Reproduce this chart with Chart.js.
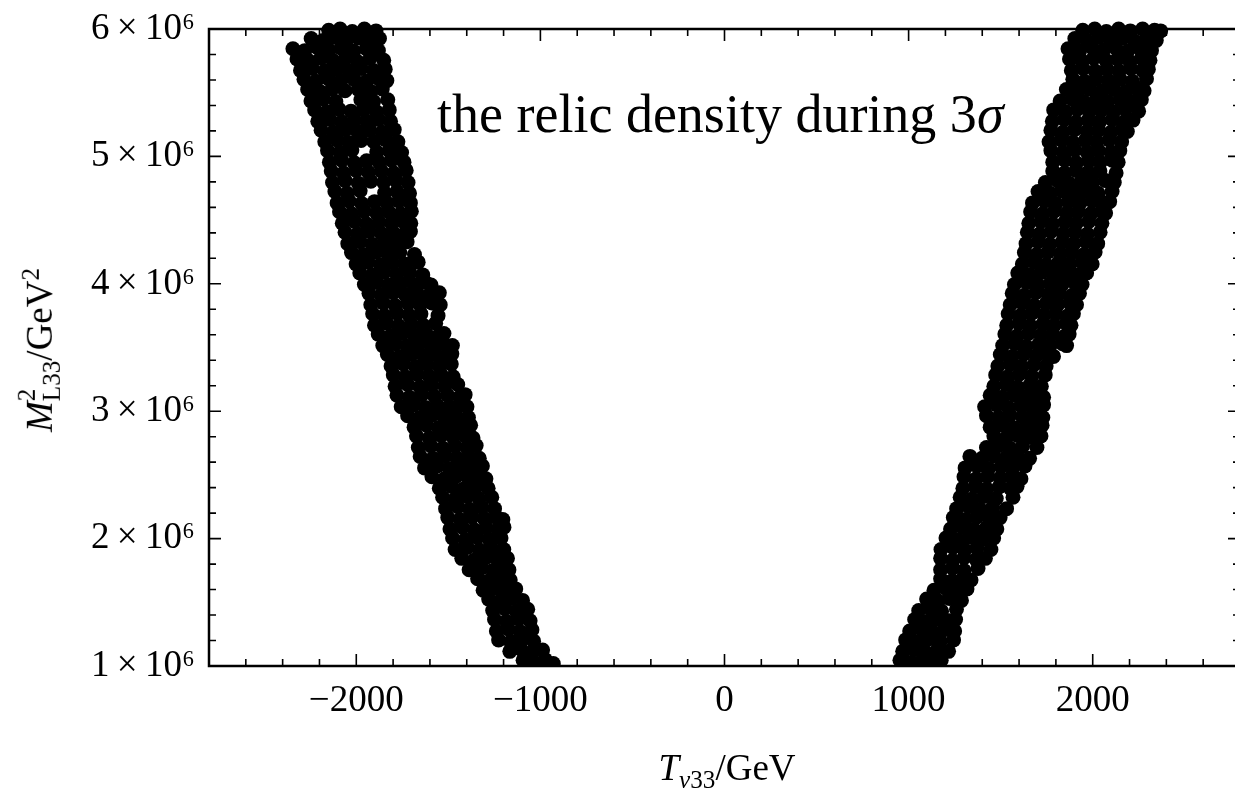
<!DOCTYPE html>
<html>
<head>
<meta charset="utf-8">
<script src="https://cdn.jsdelivr.net/npm/chart.js@4.4.0/dist/chart.umd.min.js"></script>
<style>
  html, body { margin: 0; padding: 0; background: #fff; overflow: hidden; }
  #wrap { position: relative; width: 1250px; height: 795px; }
  .lbl { position: absolute; font-family: "Liberation Serif", "Times New Roman", serif; color: #000; white-space: nowrap; line-height: 1; }
  .lbl sub, .lbl sup { font-size: 0.68em; line-height: 0; }
  .lbl sub { vertical-align: -0.32em; }
  .lbl sup { vertical-align: 0.5em; }
  #note { left: 437px; top: 87px; font-size: 54px; }
  #xtitle { left: 727px; top: 749px; font-size: 37px; transform: translateX(-50%); }
  #ytitle { left: 39px; top: 350px; font-size: 37px; transform: translate(-50%, -50%) rotate(-90deg); }
  .ss { display: inline-block; vertical-align: -0.34em; font-size: 0.68em; line-height: 1; }
  .ss span { display: block; }
</style>
</head>
<body>
<div id="wrap">
  <canvas id="chart" width="1250" height="795"></canvas>
  <div class="lbl" id="note">the relic density during 3<i>σ</i></div>
  <div class="lbl" id="xtitle"><i>T</i><sub><i>ν</i>33</sub>/GeV</div>
  <div class="lbl" id="ytitle"><i>M</i><span class="ss"><span>2</span><span>L33</span></span>/GeV<sup>2</sup></div>
</div>
<script>
// axis setup
const xMin = -2800, xMax = 2800, xMinorStep = 200;
const yMin = 1, yMax = 6, yMinorStep = 0.2;
const xTicks = [-2000, -1000, 0, 1000, 2000];
const yTicks = [1, 2, 3, 4, 5, 6]; // in units of 10^6 GeV^2

// scan points, x = T_v33 (GeV), y = M^2_L33 (10^6 GeV^2)
const leftBand = [
  [-2150,5.99],[-2088,6.0],[-2022,5.98],[-1956,6.0],[-1893,5.985],
  [-2245,5.925],[-2181,5.91],[-2116,5.935],[-2052,5.915],[-1988,5.93],[-1929,5.905],[-1874,5.925],
  [-2344,5.845],[-2280,5.83],[-2213,5.855],[-2148,5.835],[-2082,5.85],[-2014,5.825],[-1946,5.845],[-1880,5.83],
  [-2322,5.765],[-2258,5.75],[-2193,5.77],[-2128,5.755],[-2061,5.765],[-1994,5.745],[-1925,5.77],[-1851,5.755],
  [-2303,5.675],[-2239,5.69],[-2171,5.67],[-2104,5.685],[-2038,5.67],[-1973,5.69],[-1906,5.675],[-1843,5.685],
  [-2284,5.605],[-2219,5.59],[-2152,5.61],[-2083,5.595],[-2012,5.605],[-1944,5.59],[-1879,5.61],[-1834,5.595],
  [-2264,5.525],[-2198,5.51],[-2131,5.53],[-2061,5.515],[-1989,5.525],[-1921,5.51],[-1859,5.53],
  [-2246,5.435],[-2179,5.45],[-2111,5.43],[-1975,5.445],[-1906,5.43],[-1829,5.445],
  [-2226,5.365],[-2160,5.35],[-2094,5.37],[-2029,5.355],[-1961,5.365],[-1891,5.35],[-1821,5.365],
  [-2209,5.275],[-2144,5.29],[-2079,5.27],[-2011,5.285],[-1944,5.275],[-1879,5.29],[-1814,5.275],
  [-2191,5.205],[-2124,5.19],[-2059,5.21],[-1994,5.195],[-1926,5.205],[-1859,5.19],[-1794,5.21],
  [-2171,5.115],[-2104,5.13],[-2041,5.11],[-1974,5.125],[-1904,5.115],[-1839,5.13],[-1774,5.115],
  [-2156,5.045],[-2089,5.03],[-2024,5.05],[-1889,5.035],[-1821,5.045],[-1754,5.03],
  [-2146,4.955],[-2079,4.97],[-2011,4.95],[-1944,4.965],[-1876,4.955],[-1809,4.97],[-1741,4.955],
  [-2136,4.885],[-2069,4.87],[-2001,4.89],[-1934,4.875],[-1864,4.885],[-1796,4.87],[-1729,4.89],
  [-2129,4.795],[-2061,4.81],[-1989,4.79],[-1921,4.805],[-1851,4.795],[-1784,4.81],[-1719,4.795],
  [-2116,4.725],[-2049,4.71],[-1979,4.73],[-1846,4.715],[-1779,4.725],[-1711,4.71],
  [-2104,4.635],[-2039,4.65],[-1971,4.63],[-1901,4.645],[-1834,4.635],[-1769,4.65],[-1706,4.635],
  [-2091,4.565],[-2026,4.55],[-1957,4.57],[-1889,4.555],[-1824,4.565],[-1759,4.55],[-1701,4.57],
  [-2076,4.475],[-2009,4.49],[-1944,4.47],[-1876,4.485],[-1809,4.475],[-1746,4.49],[-1704,4.475],
  [-2061,4.405],[-1994,4.39],[-1929,4.41],[-1864,4.395],[-1801,4.405],[-1739,4.39],[-1706,4.41],
  [-2046,4.315],[-1979,4.33],[-1914,4.31],[-1849,4.325],[-1786,4.315],[-1724,4.33],
  [-2026,4.245],[-1961,4.23],[-1894,4.25],[-1829,4.235],[-1764,4.245],[-1684,4.23],
  [-2001,4.155],[-1936,4.17],[-1869,4.15],[-1804,4.165],[-1736,4.155],[-1664,4.17],
  [-1981,4.085],[-1914,4.07],[-1849,4.09],[-1781,4.075],[-1709,4.085],[-1639,4.07],
  [-1956,3.995],[-1889,4.01],[-1824,3.99],[-1756,4.005],[-1689,3.995],[-1624,4.01],[-1594,3.99],
  [-1931,3.925],[-1864,3.91],[-1799,3.93],[-1734,3.915],[-1669,3.925],[-1604,3.91],[-1549,3.93],
  [-1921,3.835],[-1854,3.85],[-1789,3.83],[-1719,3.845],[-1654,3.835],[-1589,3.85],[-1544,3.835],
  [-1911,3.765],[-1846,3.75],[-1779,3.77],[-1714,3.755],[-1649,3.765],[-1556,3.75],
  [-1901,3.675],[-1834,3.69],[-1769,3.67],[-1701,3.685],[-1636,3.675],[-1569,3.69],
  [-1881,3.605],[-1814,3.59],[-1749,3.61],[-1684,3.595],[-1619,3.605],[-1554,3.59],[-1524,3.61],
  [-1856,3.515],[-1789,3.53],[-1724,3.51],[-1659,3.525],[-1594,3.515],[-1529,3.53],[-1478,3.515],
  [-1831,3.445],[-1764,3.43],[-1699,3.45],[-1634,3.435],[-1569,3.445],[-1506,3.43],[-1481,3.45],
  [-1811,3.355],[-1744,3.37],[-1679,3.35],[-1614,3.365],[-1549,3.355],[-1484,3.37],
  [-1799,3.285],[-1734,3.27],[-1669,3.29],[-1604,3.275],[-1539,3.285],[-1474,3.27],
  [-1789,3.195],[-1721,3.21],[-1654,3.19],[-1589,3.205],[-1519,3.195],[-1449,3.21],
  [-1779,3.125],[-1711,3.11],[-1644,3.13],[-1574,3.115],[-1504,3.125],[-1439,3.11],[-1409,3.13],
  [-1756,3.035],[-1689,3.05],[-1624,3.03],[-1559,3.045],[-1494,3.035],[-1429,3.05],[-1399,3.035],
  [-1721,2.965],[-1654,2.95],[-1589,2.97],[-1524,2.955],[-1459,2.965],[-1391,2.95],
  [-1686,2.875],[-1619,2.89],[-1554,2.87],[-1489,2.885],[-1424,2.875],[-1379,2.89],
  [-1673,2.805],[-1604,2.79],[-1539,2.81],[-1474,2.795],[-1409,2.805],[-1366,2.79],
  [-1663,2.715],[-1596,2.73],[-1529,2.71],[-1464,2.725],[-1399,2.715],[-1349,2.73],
  [-1653,2.645],[-1584,2.63],[-1519,2.65],[-1454,2.635],[-1389,2.645],[-1332,2.63],
  [-1629,2.555],[-1561,2.57],[-1496,2.55],[-1429,2.565],[-1364,2.555],[-1315,2.57],
  [-1589,2.485],[-1521,2.47],[-1457,2.49],[-1391,2.475],[-1329,2.485],[-1296,2.47],
  [-1549,2.395],[-1481,2.41],[-1417,2.39],[-1351,2.405],[-1284,2.395],
  [-1531,2.325],[-1464,2.31],[-1399,2.33],[-1334,2.315],[-1264,2.325],
  [-1515,2.235],[-1449,2.25],[-1384,2.23],[-1317,2.245],[-1249,2.235],
  [-1503,2.165],[-1436,2.15],[-1371,2.17],[-1304,2.155],[-1239,2.165],[-1204,2.15],
  [-1491,2.075],[-1424,2.09],[-1359,2.07],[-1294,2.085],[-1229,2.075],[-1198,2.09],
  [-1477,2.005],[-1409,1.99],[-1344,2.01],[-1279,1.995],[-1214,2.005],
  [-1463,1.915],[-1397,1.93],[-1331,1.91],[-1265,1.925],[-1199,1.915],
  [-1427,1.845],[-1361,1.83],[-1297,1.85],[-1234,1.835],[-1179,1.845],
  [-1387,1.755],[-1321,1.77],[-1259,1.75],[-1199,1.765],[-1171,1.755],
  [-1341,1.685],[-1279,1.67],[-1219,1.69],[-1164,1.675],
  [-1311,1.595],[-1249,1.61],[-1189,1.59],[-1134,1.605],
  [-1281,1.525],[-1219,1.51],[-1159,1.53],[-1097,1.515],
  [-1259,1.435],[-1194,1.45],[-1131,1.43],[-1069,1.445],
  [-1249,1.365],[-1184,1.35],[-1119,1.37],[-1056,1.355],
  [-1239,1.275],[-1174,1.29],[-1111,1.27],[-1046,1.285],
  [-1227,1.205],[-1161,1.19],[-1099,1.21],[-1037,1.195],
  [-1166,1.115],[-1104,1.13],[-1044,1.11],[-988,1.125],
  [-1094,1.045],[-1034,1.03],[-974,1.05],[-930,1.02]
];

const rightBand = [
  [1946,5.99],[2011,6.0],[2074,5.98],[2141,6.0],[2204,5.985],[2271,6.0],[2336,5.99],[2369,5.985],
  [1903,5.925],[1967,5.91],[2033,5.935],[2097,5.915],[2163,5.93],[2227,5.905],[2293,5.925],[2345,5.91],
  [1866,5.845],[1929,5.83],[1996,5.855],[2059,5.835],[2126,5.85],[2189,5.825],[2256,5.845],[2319,5.83],
  [1874,5.765],[1941,5.75],[2004,5.77],[2071,5.755],[2134,5.765],[2201,5.745],[2264,5.77],[2311,5.755],
  [1884,5.675],[1947,5.69],[2013,5.67],[2077,5.685],[2143,5.67],[2207,5.69],[2271,5.675],[2302,5.685],
  [1892,5.605],[1956,5.59],[2019,5.61],[2086,5.595],[2149,5.605],[2216,5.59],[2292,5.61],
  [1857,5.525],[1921,5.51],[1984,5.53],[2051,5.515],[2114,5.525],[2181,5.51],[2244,5.53],[2279,5.515],
  [1823,5.435],[1889,5.45],[1951,5.43],[2019,5.445],[2081,5.43],[2149,5.445],[2211,5.43],[2264,5.445],
  [1788,5.365],[1853,5.35],[1917,5.37],[1983,5.355],[2047,5.365],[2113,5.35],[2177,5.37],[2249,5.355],
  [1781,5.275],[1846,5.29],[1909,5.27],[1976,5.285],[2039,5.275],[2106,5.29],[2169,5.27],[2219,5.285],
  [1773,5.205],[1839,5.19],[1901,5.21],[1969,5.195],[2031,5.205],[2099,5.19],[2159,5.21],[2188,5.195],
  [1763,5.115],[1829,5.13],[1891,5.11],[1959,5.125],[2021,5.115],[2089,5.13],[2157,5.115],
  [1773,5.045],[1839,5.03],[1902,5.05],[1969,5.035],[2031,5.045],[2099,5.03],[2147,5.045],
  [1783,4.955],[1849,4.97],[1911,4.95],[1979,4.965],[2041,4.955],[2106,4.97],[2138,4.955],
  [1783,4.885],[1847,4.87],[1909,4.89],[1976,4.875],[2039,4.885],[2127,4.87],
  [1743,4.795],[1809,4.81],[1871,4.79],[1939,4.805],[2001,4.795],[2069,4.81],[2117,4.795],
  [1703,4.725],[1769,4.71],[1831,4.73],[1899,4.715],[1961,4.725],[2029,4.71],[2105,4.725],
  [1673,4.635],[1739,4.65],[1801,4.63],[1869,4.645],[1931,4.635],[1999,4.65],[2061,4.635],[2092,4.645],
  [1663,4.565],[1729,4.55],[1791,4.57],[1859,4.555],[1921,4.565],[1989,4.55],[2049,4.57],[2070,4.555],
  [1653,4.475],[1719,4.49],[1781,4.47],[1849,4.485],[1911,4.475],[1979,4.49],[2050,4.475],
  [1645,4.405],[1711,4.39],[1774,4.41],[1841,4.395],[1904,4.405],[1971,4.39],[2040,4.405],
  [1638,4.315],[1703,4.33],[1767,4.31],[1833,4.325],[1897,4.315],[1963,4.33],[2027,4.315],
  [1629,4.245],[1695,4.23],[1757,4.25],[1825,4.235],[1887,4.245],[1953,4.23],[2013,4.25],
  [1618,4.155],[1683,4.17],[1747,4.15],[1813,4.165],[1877,4.155],[1943,4.17],[1997,4.155],
  [1593,4.085],[1659,4.07],[1721,4.09],[1789,4.075],[1851,4.085],[1919,4.07],[1967,4.085],
  [1575,3.995],[1641,4.01],[1704,3.99],[1771,4.005],[1834,3.995],[1901,4.01],[1942,3.995],
  [1563,3.925],[1629,3.91],[1691,3.93],[1759,3.915],[1821,3.925],[1889,3.91],[1928,3.925],
  [1552,3.835],[1618,3.85],[1681,3.83],[1747,3.845],[1809,3.835],[1876,3.85],[1912,3.835],
  [1541,3.765],[1607,3.75],[1669,3.77],[1736,3.755],[1799,3.765],[1866,3.75],[1895,3.765],
  [1533,3.675],[1599,3.69],[1661,3.67],[1729,3.685],[1791,3.675],[1856,3.69],[1882,3.675],
  [1523,3.605],[1589,3.59],[1651,3.61],[1719,3.595],[1781,3.605],[1849,3.59],[1872,3.605],
  [1511,3.515],[1577,3.53],[1639,3.51],[1707,3.525],[1769,3.515],[1836,3.53],[1858,3.515],
  [1498,3.445],[1563,3.43],[1627,3.45],[1693,3.435],[1754,3.445],[1787,3.43],
  [1485,3.355],[1551,3.37],[1614,3.35],[1681,3.365],[1747,3.355],
  [1473,3.285],[1539,3.27],[1601,3.29],[1669,3.275],[1742,3.285],
  [1463,3.195],[1529,3.21],[1591,3.19],[1659,3.205],[1721,3.195],
  [1443,3.125],[1509,3.11],[1571,3.13],[1639,3.115],[1701,3.125],[1733,3.11],
  [1413,3.035],[1479,3.05],[1541,3.03],[1609,3.045],[1671,3.035],[1733,3.05],
  [1423,2.965],[1489,2.95],[1551,2.97],[1619,2.955],[1681,2.965],[1729,2.95],
  [1443,2.875],[1509,2.89],[1571,2.87],[1639,2.885],[1701,2.875],[1725,2.89],
  [1463,2.805],[1529,2.79],[1591,2.81],[1659,2.795],[1719,2.805],
  [1423,2.715],[1489,2.73],[1551,2.71],[1619,2.725],[1697,2.715],
  [1333,2.645],[1399,2.63],[1461,2.65],[1529,2.635],[1591,2.645],[1657,2.63],
  [1307,2.555],[1373,2.57],[1435,2.55],[1503,2.565],[1565,2.555],[1632,2.57],
  [1301,2.485],[1367,2.47],[1429,2.49],[1497,2.475],[1559,2.485],[1610,2.47],
  [1295,2.395],[1361,2.41],[1423,2.39],[1491,2.405],[1553,2.395],[1589,2.41],
  [1280,2.325],[1346,2.31],[1409,2.33],[1476,2.315],[1567,2.325],
  [1261,2.235],[1327,2.25],[1389,2.23],[1457,2.245],[1532,2.235],
  [1243,2.165],[1309,2.15],[1371,2.17],[1439,2.155],[1497,2.165],
  [1228,2.075],[1293,2.09],[1357,2.07],[1423,2.085],[1479,2.075],
  [1203,2.005],[1269,1.99],[1331,2.01],[1399,1.995],[1462,2.005],
  [1176,1.915],[1241,1.93],[1304,1.91],[1371,1.925],[1447,1.915],
  [1174,1.845],[1239,1.83],[1301,1.85],[1367,1.835],[1417,1.845],
  [1174,1.755],[1239,1.77],[1301,1.75],[1377,1.765],
  [1174,1.685],[1237,1.67],[1297,1.69],[1339,1.675],
  [1138,1.595],[1201,1.61],[1261,1.59],[1317,1.605],
  [1098,1.525],[1161,1.51],[1221,1.53],[1287,1.515],
  [1055,1.435],[1119,1.45],[1179,1.43],[1260,1.445],
  [1033,1.365],[1096,1.35],[1157,1.37],[1221,1.355],[1255,1.365],
  [1006,1.275],[1069,1.29],[1129,1.27],[1193,1.285],[1250,1.275],
  [984,1.205],[1047,1.19],[1107,1.21],[1171,1.195],[1244,1.205],
  [968,1.115],[1031,1.13],[1091,1.11],[1156,1.125],[1217,1.115],
  [953,1.045],[1016,1.03],[1077,1.05],[1141,1.035],[1177,1.045]
];

const tickFont = { family: '"Liberation Serif", "Times New Roman", serif', size: 37, lineHeight: 1 };

// frame with inward ticks on all four sides, Mathematica style
const frameTicks = {
  id: 'frameTicks',
  afterDraw(chart) {
    const { ctx, chartArea: a, scales: { x, y } } = chart;
    ctx.save();
    ctx.strokeStyle = '#000';
    ctx.lineWidth = 1.6;
    ctx.beginPath();
    const nx = Math.round((xMax - xMin) / xMinorStep);
    for (let i = 1; i < nx; i++) {
      const v = xMin + i * xMinorStep;
      const len = xTicks.includes(v) ? 12 : 7;
      const px = x.getPixelForValue(v);
      ctx.moveTo(px, a.bottom); ctx.lineTo(px, a.bottom - len);
      ctx.moveTo(px, a.top); ctx.lineTo(px, a.top + len);
    }
    const ny = Math.round((yMax - yMin) / yMinorStep);
    for (let i = 1; i < ny; i++) {
      const v = yMin + i * yMinorStep;
      const len = Math.abs(v - Math.round(v)) < 1e-6 ? 12 : 7;
      const py = y.getPixelForValue(v);
      ctx.moveTo(a.left, py); ctx.lineTo(a.left + len, py);
      ctx.moveTo(a.right, py); ctx.lineTo(a.right - len, py);
    }
    ctx.stroke();
    ctx.lineWidth = 2.5;
    ctx.strokeRect(a.left, a.top, a.width, a.height);
    ctx.restore();
  }
};

const band = (pts) => ({
  data: pts.map(([x, y]) => ({ x, y })),
  backgroundColor: '#000',
  borderWidth: 0,
  pointRadius: 7.5,
  pointHoverRadius: 7.5,
  clip: { left: 0, top: 8, right: 0, bottom: 0 }
});

new Chart(document.getElementById('chart'), {
  type: 'scatter',
  data: { datasets: [band(leftBand), band(rightBand)] },
  options: {
    responsive: false,
    animation: false,
    events: [],
    layout: { padding: { top: 29, right: 10, left: 0, bottom: 0 } },
    plugins: { legend: { display: false }, tooltip: { enabled: false } },
    scales: {
      x: {
        type: 'linear', min: xMin, max: xMax,
        afterBuildTicks: (s) => { s.ticks = xTicks.map((v) => ({ value: v })); },
        afterFit: (s) => { s.height = 129; s.paddingLeft = 0; s.paddingRight = 0; },
        grid: { display: false, drawTicks: false },
        border: { display: false },
        ticks: {
          font: tickFont, color: '#000', padding: 17, maxRotation: 0, autoSkip: false,
          callback: (v) => (v < 0 ? '\u2212' + Math.abs(v) : String(v))
        }
      },
      y: {
        type: 'linear', min: yMin, max: yMax,
        afterBuildTicks: (s) => { s.ticks = yTicks.map((v) => ({ value: v })); },
        afterFit: (s) => { s.width = 209; s.paddingTop = 0; s.paddingBottom = 0; },
        grid: { display: false, drawTicks: false },
        border: { display: false },
        ticks: {
          font: tickFont, color: '#000', padding: 14, autoSkip: false,
          callback: (v) => v + '\u2009\u00d7\u200910\u2076'
        }
      }
    }
  },
  plugins: [frameTicks]
});
</script>
</body>
</html>
